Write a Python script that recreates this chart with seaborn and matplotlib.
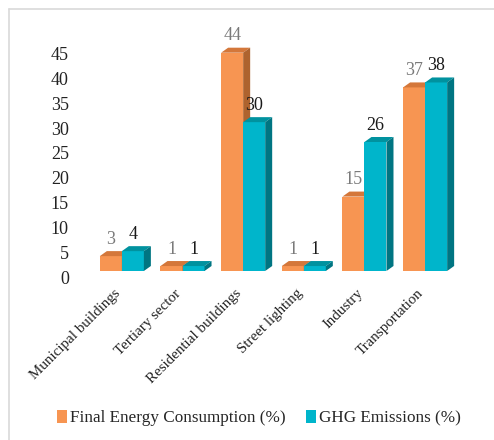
import matplotlib
matplotlib.use("Agg")
import matplotlib.pyplot as plt
import matplotlib.transforms as mtransforms
from matplotlib.patches import Polygon, Patch
from matplotlib.lines import Line2D
import seaborn as sns
import pandas as pd

# data
sectors = ["Municipal buildings", "Tertiary sector", "Residential buildings",
           "Street lighting", "Industry", "Transportation"]
energy = [3, 1, 44, 1, 15, 37]
ghg = [4, 1, 30, 1, 26, 38]
series = ["Final Energy Consumption (%)", "GHG Emissions (%)"]

# colours: front, top, side
cols = {
    series[0]: ("#F79552", "#D4773A", "#AE632E"),
    series[1]: ("#00B5CB", "#00929F", "#007582"),
}
label_cols = {series[0]: "#7a7a7a", series[1]: "#1a1a1a"}

df = pd.DataFrame({
    "sector": sectors * 2,
    "value": energy + ghg,
    "series": [series[0]] * len(sectors) + [series[1]] * len(sectors),
})

sns.set_style("white")
plt.rcParams["font.family"] = ["Liberation Serif", "DejaVu Serif"]

fig = plt.figure(figsize=(4.94, 4.40), dpi=100)
ax = fig.add_axes([80 / 494, (440 - 271) / 440, 390 / 494, 258 / 440])

sns.barplot(data=df, x="sector", y="value", hue="series", order=sectors,
            hue_order=series, palette=[cols[s][0] for s in series],
            width=0.726, saturation=1, ax=ax, legend=False)

ax.set_xlim(-0.69, 5.74)
ax.set_ylim(0, 52)

# fake 3d depth (px converted to data units)
dx = 7 / 60.6
dy = 5 / 4.96

n = len(sectors)
for k, s in enumerate(series):
    front, top, side = cols[s]
    z = 2 + 2 * k
    vals = energy if k == 0 else ghg
    for bar, v in zip(ax.patches[k * n:(k + 1) * n], vals):
        bar.set_zorder(z)
        bar.set_edgecolor("none")
        x0 = bar.get_x()
        w = bar.get_width()
        h = bar.get_height()
        ax.add_patch(Polygon([(x0, h), (x0 + dx, h + dy), (x0 + w + dx, h + dy), (x0 + w, h)],
                             closed=True, facecolor=top, edgecolor="none", zorder=z + 0.5))
        ax.add_patch(Polygon([(x0 + w, 0), (x0 + w + dx, dy), (x0 + w + dx, h + dy), (x0 + w, h)],
                             closed=True, facecolor=side, edgecolor="none", zorder=z + 0.5))
        ax.annotate(f"{v}", (x0 + w / 2, h), xytext=(0, 6), textcoords="offset points",
                    ha="center", va="bottom", fontsize=13, color=label_cols[s], zorder=10)

for sp in ax.spines.values():
    sp.set_visible(False)

ax.set_xlabel("")
ax.set_ylabel("")
ax.set_yticks(range(0, 46, 5))
ax.tick_params(axis="both", length=0, colors="#222222")
ax.tick_params(axis="y", pad=8, labelsize=13)
ax.tick_params(axis="x", pad=0, labelsize=10.8)
ax.set_xticks(range(n))
ax.set_xticklabels(sectors, rotation=45, ha="right", rotation_mode="anchor")
offset = mtransforms.ScaledTranslation(0, -6 / 100, fig.dpi_scale_trans)
for lab in ax.get_yticklabels():
    lab.set_transform(lab.get_transform() + offset)
xoff = mtransforms.ScaledTranslation(-8 / 100, -16 / 100, fig.dpi_scale_trans)
for lab in ax.get_xticklabels():
    lab.set_transform(lab.get_transform() + xoff)

handles = [Patch(facecolor=cols[s][0], edgecolor="none") for s in series]
fig.legend(handles, series, loc="center", bbox_to_anchor=(259 / 494, 1 - 418 / 440),
           ncol=2, frameon=False, fontsize=12.3, handlelength=0.6, handleheight=0.8,
           handletextpad=0.15, columnspacing=1.2)

# light frame on left and top
fig.add_artist(Line2D([8.5 / 494, 8.5 / 494], [0, 1 - 9.5 / 440], color="#d9d9d9", lw=1.2))
fig.add_artist(Line2D([8.5 / 494, 1], [1 - 9.5 / 440, 1 - 9.5 / 440], color="#d9d9d9", lw=1.2))

fig.savefig("out.png", dpi=100)
